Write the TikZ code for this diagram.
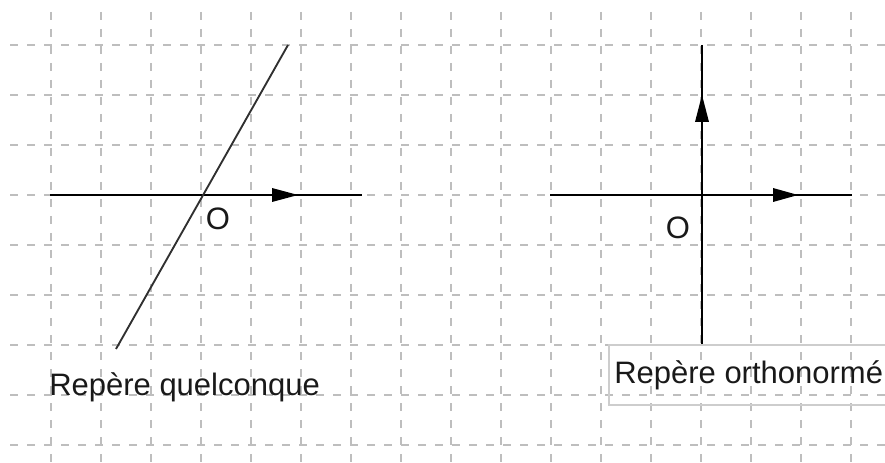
\documentclass[tikz,border=0pt]{standalone}
\usepackage{fontspec}
\setmainfont{Liberation Sans}
\definecolor{gridgray}{RGB}{190,190,190}
\definecolor{boxgray}{RGB}{205,205,205}
\definecolor{inkdark}{RGB}{25,25,25}
\begin{document}
\begin{tikzpicture}[x=0.75pt,y=-0.75pt,
  gridline/.style={gridgray,line width=1pt,dash pattern=on 6pt off 6.75pt},
  axisline/.style={black,line width=1.5pt},
  obliqueline/.style={inkdark!90,line width=1.4pt},
  tiphead/.style={fill=black},
  lbl/.style={inner sep=0pt,font=\fontsize{23.25}{28}\selectfont,text=inkdark},
  labelbox/.style={boxgray,line width=0.9pt}]
\useasboundingbox (0,0) rectangle (885,463);
\clip (0,0) rectangle (885,463);
% grid
\foreach \y in {45,95,...,445} \draw[gridline] (10,\y) -- (885,\y);
\foreach \x in {51,101,...,851} \draw[gridline] (\x,12) -- (\x,463);
% left frame
\coordinate (LA) at (50,195);
\coordinate (LB) at (362,195);
\coordinate (LC) at (288,45);
\coordinate (LD) at (116,349);
\draw[axisline] (LA) -- (LB);
\draw[obliqueline] (LC) -- (LD);
\fill[tiphead] (298,195) -- (272,188) -- (272,202) -- cycle;
\node[lbl] (O1) at (218,219) {O};
\node[lbl,anchor=base west] (T1) at (49,395) {Repère quelconque};
% right frame
\coordinate (RA) at (550,195);
\coordinate (RB) at (852,195);
\coordinate (RC) at (702,45);
\coordinate (RD) at (702,345);
\draw[axisline] (RA) -- (RB);
\draw[axisline] (RC) -- (RD);
\fill[tiphead] (798,195) -- (773,188) -- (773,202) -- cycle;
\fill[tiphead] (702,95) -- (695,122) -- (709,122) -- cycle;
\node[lbl] (O2) at (678,228) {O};
\draw[labelbox] (609,345) rectangle (900,405);
\node[lbl,anchor=base west] (T2) at (614,383) {Repère orthonormé};
\end{tikzpicture}
\end{document}
